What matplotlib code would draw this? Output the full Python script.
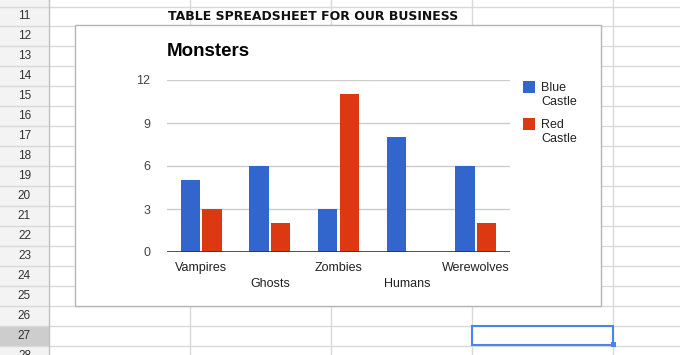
import numpy as np
import matplotlib.pyplot as plt
from matplotlib.patches import Rectangle

plt.rcParams['font.family'] = ['Liberation Sans', 'DejaVu Sans']

# chart data
categories = ['Vampires', 'Ghosts', 'Zombies', 'Humans', 'Werewolves']
series_names = ['Blue\nCastle', 'Red\nCastle']
blue_castle = [5, 6, 3, 8, 6]
red_castle = [3, 2, 11, 0, 2]
y_ticks = [0, 3, 6, 9, 12]
row_numbers = list(range(10, 29))
sheet_title = 'TABLE SPREADSHEET FOR OUR BUSINESS'
chart_title = 'Monsters'

colors = ['#3366cc', '#dc3912']
W, H = 680, 355

fig = plt.figure(figsize=(W / 100, H / 100), dpi=100)

# spreadsheet background, drawn in pixel coords
bg = fig.add_axes([0, 0, 1, 1], zorder=0)
bg.set_xlim(0, W)
bg.set_ylim(H, 0)
bg.axis('off')

row_h = 19.95
row0 = 6.5
bg.add_patch(Rectangle((0, 0), 49, H, fc='#f3f3f3', ec='none', zorder=0))
sel_top = row0 + row_h * (27 - 11)
bg.add_patch(Rectangle((0, sel_top), 49, row_h, fc='#cdcdcd', ec='none', zorder=0))

for k in range(-1, 19):
    y = row0 + row_h * k
    bg.plot([0, W], [y, y], color='#d9d9d9', lw=1, zorder=1)
for x in [190, 331, 472, 613]:
    bg.plot([x, x], [0, H], color='#d9d9d9', lw=1, zorder=1)
bg.plot([49, 49], [0, H], color='#c0c0c0', lw=1, zorder=1)

for r in row_numbers:
    yc = row0 + row_h * (r - 11) + row_h / 2
    bg.text(24.5, yc, str(r), ha='center', va='center', fontsize=8.5,
            color='#333333', zorder=2)

bg.text(313.5, 17, sheet_title, ha='center', va='center', fontsize=9,
        weight='bold', family='DejaVu Sans', color='#111111', zorder=2)

# selected cell
bg.add_patch(Rectangle((472, sel_top), 141, row_h - 0.5, fill=False,
                       ec='#4a86e8', lw=1.5, zorder=3))
bg.add_patch(Rectangle((610.5, sel_top + row_h - 3.5), 5, 5, fc='#4a86e8',
                       ec='none', zorder=3))

# chart box
bg.add_patch(Rectangle((75, 25), 526, 281, fc='white', ec='#b5b5b5', lw=1,
                       zorder=3))
bg.text(167, 52, chart_title, ha='left', va='center', fontsize=13.5,
        weight='bold', color='#000000', zorder=4)

# legend
for j, (name, c) in enumerate(zip(series_names, colors)):
    top = 81 + 37 * j
    bg.add_patch(Rectangle((523, top), 12, 12, fc=c, ec='none', zorder=4))
    bg.text(541, top + 14, name, ha='left', va='center', fontsize=9,
            linespacing=1.3, color='#222222', zorder=4)

# bar chart
ax = fig.add_axes([167 / W, 1 - 252 / H, 343 / W, 172 / H], zorder=2)
ax.patch.set_alpha(0)
x = np.arange(len(categories))
w = 0.284
off = 0.157
ax.bar(x - off, blue_castle, width=w, color=colors[0], lw=0)
ax.bar(x + off, red_castle, width=w, color=colors[1], lw=0)

ax.set_xlim(-0.5, 4.5)
ax.set_ylim(0, 12)
ax.set_yticks(y_ticks)
ax.set_xticks([])
ax.yaxis.grid(True, color='#cccccc', lw=1)
ax.set_axisbelow(True)
ax.axhline(0, color='#333333', lw=1.2)
for s in ax.spines.values():
    s.set_visible(False)
ax.tick_params(axis='y', length=0, pad=12, labelsize=9, labelcolor='#444444')

for i, c in enumerate(categories):
    ax.annotate(c, xy=(i, 0), xycoords=('data', 'axes fraction'),
                xytext=(0, -16 if i % 2 == 0 else -32),
                textcoords='offset pixels', ha='center', va='center',
                fontsize=9, color='#222222')

fig.savefig('out.png', dpi=100)
